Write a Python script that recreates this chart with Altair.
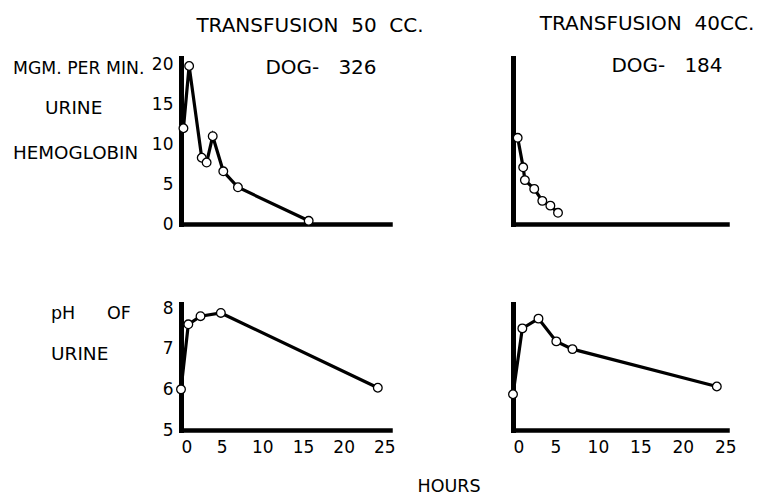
import altair as alt
import pandas as pd

# ---- data ----
# Urine hemoglobin (mgm per min) vs hours
hb326_hours = [0.3, 1.0, 2.55, 3.15, 3.9, 5.2, 7.0, 15.7]
hb326_mgm = [12.0, 19.8, 8.3, 7.7, 11.0, 6.6, 4.6, 0.4]
hb184_hours = [0.55, 1.2, 1.4, 2.5, 3.45, 4.4, 5.3]
hb184_mgm = [10.8, 7.1, 5.5, 4.4, 2.9, 2.3, 1.4]
# pH of urine vs hours
ph326_hours = [0.0, 0.9, 2.4, 4.9, 24.2]
ph326_ph = [6.0, 7.6, 7.8, 7.88, 6.04]
ph184_hours = [0.0, 1.1, 3.0, 5.1, 7.0, 24.0]
ph184_ph = [5.88, 7.5, 7.74, 7.18, 6.99, 6.07]

x_ticks = [0, 5, 10, 15, 20, 25]
hb_ticks = [0, 5, 10, 15, 20]
ph_ticks = [5, 6, 7, 8]

FONT = "DejaVu Sans"
SP = "\u00a0"


def label(txt, px, py, size=17, align="center"):
    return alt.Chart(pd.DataFrame({"t": [txt]})).mark_text(
        font=FONT, fontSize=size, align=align, baseline="middle", color="black"
    ).encode(text="t:N", x=alt.value(px), y=alt.value(py))


def panel(hours, vals, xdom, ydom, yticks, w, h, show_x, show_y, texts):
    df = pd.DataFrame({"hours": hours, "v": vals})
    x = alt.X(
        "hours:Q",
        scale=alt.Scale(domain=xdom, nice=False, zero=False),
        axis=alt.Axis(values=x_ticks, labels=show_x, title=None, domainWidth=4.5,
                      labelPadding=9, labelFontSize=17),
    )
    y = alt.Y(
        "v:Q",
        scale=alt.Scale(domain=ydom, nice=False, zero=False),
        axis=alt.Axis(values=yticks, labels=show_y, title=None, domainWidth=5,
                      labelPadding=8, labelFontSize=17),
    )
    base = alt.Chart(df).encode(x=x, y=y)
    line = base.mark_line(color="black", strokeWidth=3.2)
    pts = base.mark_point(filled=True, fill="white", stroke="black",
                          strokeWidth=1.3, size=75, opacity=1)
    return alt.layer(line, pts, *texts).properties(width=w, height=h)


WL, WR, HT, HB = 209, 214, 166, 126

tl = panel(hb326_hours, hb326_mgm, [0, 25.7], [0, 20.8], hb_ticks, WL, HT, False, True, [
    label(f"TRANSFUSION{SP}{SP}50{SP}{SP}CC.", 129, -32, 20),
    label(f"DOG-{SP}{SP}{SP}326", 140, 10, 20),
    label("MGM. PER MIN.", -168, 11, 17.3, "left"),
    label("URINE", -136, 50, 18.5, "left"),
    label("HEMOGLOBIN", -168, 96, 18.3, "left"),
])
tr = panel(hb184_hours, hb184_mgm, [0, 25.2], [0, 20.8], hb_ticks, WR, HT, False, False, [
    label(f"TRANSFUSION{SP}{SP}40CC.", 134, -34, 20),
    label(f"DOG-{SP}{SP}{SP}184", 154, 8, 20),
])
bl = panel(ph326_hours, ph326_ph, [0, 25.7], [5, 8.1], ph_ticks, WL, HB, True, True, [
    label("pH", -130, 10, 17.5, "left"),
    label("OF", -74, 10, 17.5, "left"),
    label("URINE", -130, 50, 18.5, "left"),
    label("HOURS", 268, 183, 17.5),
])
br = panel(ph184_hours, ph184_ph, [0, 25.2], [5, 8.1], ph_ticks, WR, HB, True, False, [])

chart = alt.concat(
    tl, tr, bl, br, columns=2,
    spacing={"row": 80, "column": 123},
).properties(
    bounds="flush", align="each",
    padding={"left": 5, "top": 6, "right": 0, "bottom": 0},
    background="white",
).configure_view(strokeWidth=0).configure_axis(
    domainColor="black", domainCap="square", ticks=False, grid=False,
    labelFont=FONT, labelColor="black", zindex=1,
)

chart.save("out.html", embed_options={"renderer": "svg", "actions": False})
